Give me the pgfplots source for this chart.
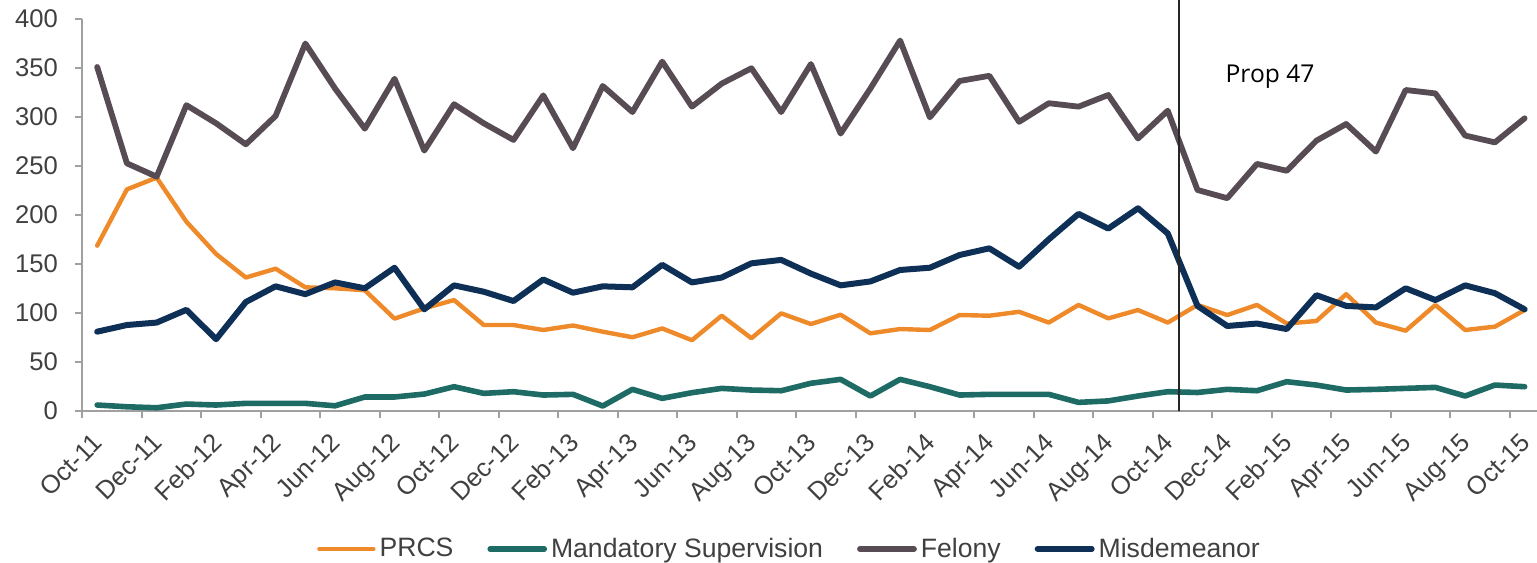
\documentclass[border=0pt]{standalone}
\usepackage{pgfplots}
\pgfplotsset{compat=1.18}
\usepackage{fontspec}
\setmainfont{Liberation Sans}
\newfontfamily\propfont{Open Sans}
\definecolor{prcs}{HTML}{EE8A2A}
\definecolor{mand}{HTML}{1E6B66}
\definecolor{felony}{HTML}{574C53}
\definecolor{misd}{HTML}{0E2F56}
\definecolor{axisgray}{HTML}{A0A0A0}
\definecolor{labelgray}{HTML}{404040}
\begin{document}
\begin{tikzpicture}
\path[use as bounding box] (-41.15bp,-76.15bp) rectangle (727.35bp,205.35bp);
\begin{axis}[
  at={(0,0)}, anchor=south west,
  scale only axis, width=728.6bp, height=195.85bp,
  xmin=-0.5, xmax=48.5, ymin=0, ymax=400,
  clip=false,
  axis x line*=bottom, axis y line*=left,
  axis line style={draw=axisgray, line width=1bp, -},
  tick align=outside, major tick length=3.5bp,
  tick style={draw=axisgray, line width=1bp},
  /pgf/number format/assume math mode=true,
  ytick={0,50,...,400},
  yticklabel style={font=\fontsize{12.8bp}{15bp}\selectfont, text=labelgray, anchor=east, inner sep=0pt, xshift=-8.5bp},
  xtick={-0.5,1.5,...,47.5}, xticklabels={},
  extra x ticks={0,2,...,48},
  extra x tick labels={Oct-11,Dec-11,Feb-12,Apr-12,Jun-12,Aug-12,Oct-12,Dec-12,Feb-13,Apr-13,Jun-13,Aug-13,Oct-13,Dec-13,Feb-14,Apr-14,Jun-14,Aug-14,Oct-14,Dec-14,Feb-15,Apr-15,Jun-15,Aug-15,Oct-15},
  extra x tick style={major tick length=0pt, grid=none},
  xticklabel style={font=\fontsize{12.8bp}{15bp}\selectfont, text=labelgray, xshift=-3bp, yshift=-10.2bp, rotate=45, anchor=north east, inner sep=0pt},
  legend style={at={(0.486,-0.353)}, anchor=center, draw=none, fill=none, legend columns=4,
    font=\fontsize{13.3bp}{16bp}\selectfont, text=labelgray,
    /tikz/every even column/.append style={column sep=15bp}},
  legend image code/.code={\draw[#1, line cap=round] (0bp,0bp) -- (27bp,0bp);},
  every axis plot/.append style={line join=round, line cap=round},
]
\addplot[prcs, line width=2.2bp] coordinates {
(0,168.5)(1,226)(2,238)(3,193)(4,160)(5,136)(6,145)(7,126)(8,125)(9,123)
(10,94)(11,104.5)(12,113)(13,87.5)(14,87.5)(15,82.4)(16,87)(17,80.7)(18,75)(19,84)
(20,72)(21,97)(22,74)(23,99.4)(24,88.5)(25,98)(26,79)(27,83.4)(28,82.4)(29,97.7)
(30,97)(31,101)(32,90)(33,108)(34,94.3)(35,102.8)(36,90)(37,108)(38,97.7)(39,108)
(40,89)(41,91.6)(42,119)(43,90)(44,81.7)(45,108)(46,82.4)(47,85.8)(48,102.8)};
\addlegendentry{PRCS}
\addplot[mand, line width=2.8bp] coordinates {
(0,5.8)(1,4)(2,3)(3,6.8)(4,5.8)(5,7.5)(6,7.5)(7,7.5)(8,5)(9,14)
(10,14)(11,17)(12,24.5)(13,17.7)(14,19.4)(15,16)(16,16.7)(17,4.8)(18,21.8)(19,12.6)
(20,18.4)(21,22.8)(22,21.1)(23,20.4)(24,28)(25,32)(26,15)(27,32)(28,24.5)(29,16)
(30,16.7)(31,16.7)(32,16.7)(33,8.5)(34,10)(35,15)(36,19.4)(37,18.6)(38,21.8)(39,20.4)
(40,29.6)(41,26.2)(42,21.1)(43,21.8)(44,22.8)(45,23.8)(46,15)(47,26.2)(48,24.5)};
\addlegendentry{Mandatory Supervision}
\addplot[felony, line width=2.9bp] coordinates {
(0,351)(1,252.6)(2,239)(3,312)(4,293.5)(5,272)(6,301)(7,375)(8,329)(9,288)
(10,339)(11,265.6)(12,313)(13,293.5)(14,276.5)(15,322)(16,268)(17,331.6)(18,305)(19,356.5)
(20,310.5)(21,334)(22,349.7)(23,305)(24,354)(25,283)(26,329)(27,378)(28,299.6)(29,336.7)
(30,342)(31,295)(32,314)(33,310.5)(34,322.4)(35,278)(36,306.4)(37,225.4)(38,217)(39,252)
(40,245)(41,275.8)(42,292.8)(43,264.6)(44,327.5)(45,324)(46,281)(47,274)(48,298.6)};
\addlegendentry{Felony}
\addplot[misd, line width=3bp] coordinates {
(0,80.7)(1,87.5)(2,90)(3,103)(4,73)(5,111)(6,127)(7,119)(8,131)(9,125)
(10,146)(11,103.5)(12,128)(13,121.5)(14,112)(15,134)(16,120.5)(17,127)(18,126)(19,149)
(20,131)(21,136)(22,150.5)(23,154)(24,140)(25,128)(26,132)(27,143.7)(28,146)(29,159)
(30,165.8)(31,147)(32,175)(33,201)(34,186)(35,206.7)(36,181)(37,107)(38,86.5)(39,89)
(40,83.4)(41,118)(42,107)(43,105.5)(44,125)(45,113)(46,128)(47,120)(48,103.5)};
\addlegendentry{Misdemeanor}
\addplot[black!85, line width=0.75bp, forget plot] coordinates {(36.37,0)(36.37,420)};
\node[font=\propfont\fontsize{12.3bp}{15bp}\selectfont, text=black, anchor=center] at (axis cs:39.44,341) {Prop 47};
\end{axis}
\end{tikzpicture}
\end{document}
